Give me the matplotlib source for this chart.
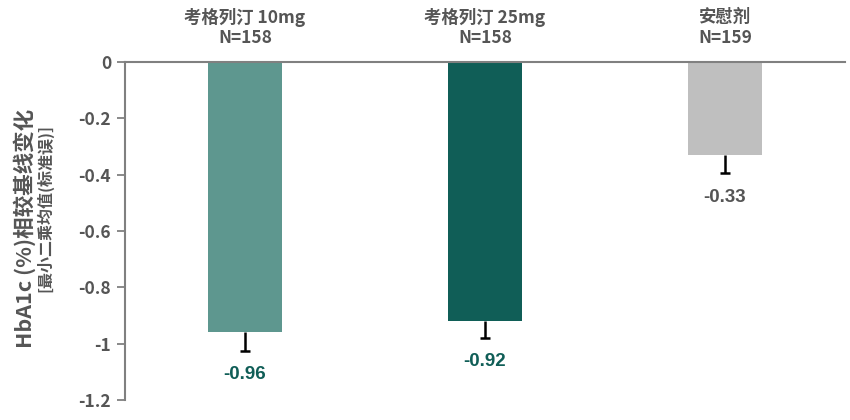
import numpy as np
import matplotlib.pyplot as plt

# Data
groepen = ['考格列汀 10mg', '考格列汀 25mg', '安慰剂']
aantallen = ['N=158', 'N=158', 'N=159']
waarden = [-0.96, -0.92, -0.33]
fouten = [0.065, 0.06, 0.065]
labels = ['-0.96', '-0.92', '-0.33']

KLEUREN = ['#5e978f', '#105e57', '#bfbfbf']
LABEL_KLEUREN = ['#105e57', '#105e57', '#555555']
GRIJS = '#555555'
LIJN = '#808080'

plt.rcParams['font.family'] = ['Noto Sans CJK SC', 'DejaVu Sans']

fig = plt.figure(figsize=(8.5, 4.2), dpi=100)
ax = fig.add_axes([125 / 850, 1 - 400 / 420, 720 / 850, 338 / 420])

x = np.arange(len(groepen))
ax.bar(x, waarden, width=0.31, color=KLEUREN, zorder=2)

# foutbalken alleen naar beneden, met kapje onderaan
onder = np.array(waarden) - np.array(fouten)
ax.vlines(x, onder, waarden, color='black', linewidth=1.8, zorder=3)
ax.plot(x, onder, linestyle='none', marker='_', markersize=7,
        markeredgewidth=1.8, color='black', zorder=3)

for xi, o, lab, kl in zip(x, onder, labels, LABEL_KLEUREN):
    ax.annotate(lab, (xi, o), xytext=(0, -11), textcoords='offset points',
                ha='center', va='top', fontsize=13.5, fontweight='bold',
                color=kl, family='Liberation Sans')

# groepsnamen boven de grafiek
trans = ax.get_xaxis_transform()
for xi, g, n in zip(x, groepen, aantallen):
    ax.text(xi, 1.0 + 45 / 338, g, transform=trans, ha='center', va='center',
            fontsize=12.5, fontweight='bold', color=GRIJS)
    ax.text(xi, 1.0 + 24 / 338, n, transform=trans, ha='center', va='center',
            fontsize=12.5, fontweight='bold', color=GRIJS)

ax.set_xlim(-0.5, 2.5)
ax.set_ylim(-1.2, 0)
ax.set_yticks(np.arange(-1.2, 0.01, 0.2))
ax.set_yticklabels(['-1.2', '-1', '-0.8', '-0.6', '-0.4', '-0.2', '0'])
ax.set_xticks([])
ax.tick_params(axis='y', length=6, width=1.3, color=LIJN, labelsize=12.5,
               labelcolor=GRIJS, pad=4)
for t in ax.get_yticklabels():
    t.set_fontweight('bold')

for kant in ['right', 'bottom']:
    ax.spines[kant].set_visible(False)
for kant in ['left', 'top']:
    ax.spines[kant].set_color(LIJN)
    ax.spines[kant].set_linewidth(1.5)

# y-as titel in twee delen
fig.text(25 / 850, 1 - 228 / 420, 'HbA1c (%)相较基线变化', rotation=90,
         ha='center', va='center', fontsize=15.5, fontweight='bold', color=GRIJS)
fig.text(45 / 850, 1 - 208 / 420, '[最小二乘均值(标准误)]', rotation=90,
         ha='center', va='center', fontsize=11.5, fontweight='bold', color=GRIJS)

plt.savefig('out.png', dpi=100)
